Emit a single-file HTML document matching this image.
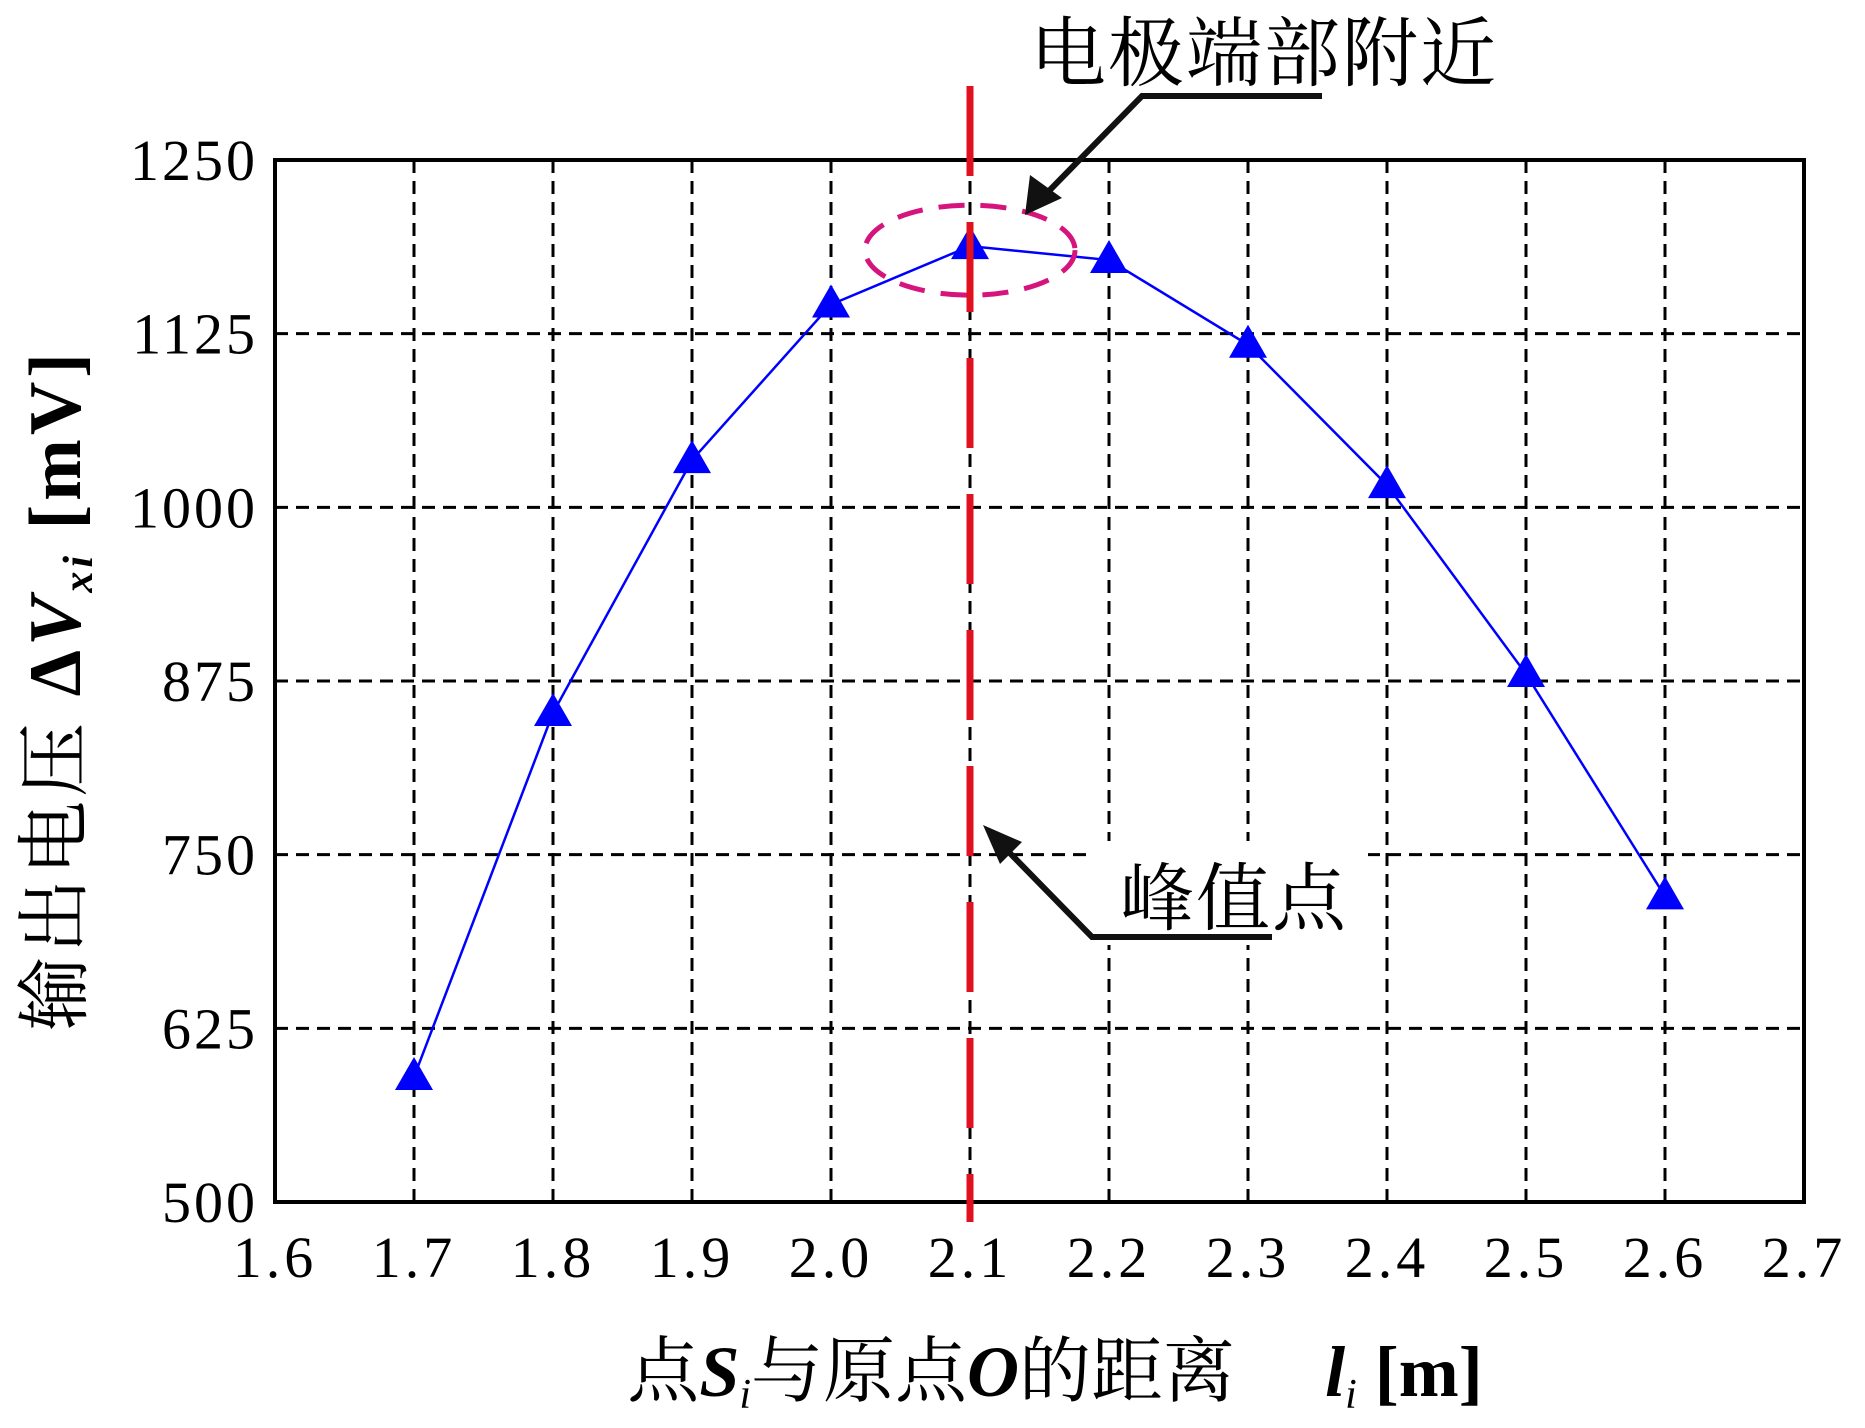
<!DOCTYPE html>
<html><head><meta charset="utf-8"><style>
html,body{margin:0;padding:0;background:#fff;}
svg{display:block;}
text{font-family:"Liberation Serif","Noto Serif CJK SC","Noto Sans CJK SC",serif;fill:#000;}
</style></head><body>
<svg id="chart" width="1865" height="1428" viewBox="0 0 1865 1428" xmlns="http://www.w3.org/2000/svg">
<g id="grid"></g>
<g id="series"></g>
<rect x="275" y="160" width="1529" height="1042" fill="none" stroke="#000" stroke-width="4"/>
<g id="ticks"></g>
<g id="annot"></g>
<text x="1055" y="1396" text-anchor="middle" font-size="72">点<tspan font-weight="bold" font-style="italic">S</tspan><tspan font-size="42" dy="12" font-style="italic">i</tspan><tspan dy="-12">与原点</tspan><tspan font-weight="bold" font-style="italic">O</tspan>的距离<tspan dx="90" font-weight="bold" font-style="italic">l</tspan><tspan font-size="42" dy="12" font-style="italic">i</tspan><tspan dy="-12" font-weight="bold"> [m]</tspan></text>
<text transform="translate(80,690) rotate(-90)" text-anchor="middle" font-size="74" letter-spacing="4">输出电压 <tspan font-weight="bold">Δ</tspan><tspan font-weight="bold" font-style="italic">V</tspan><tspan font-size="42" dy="12" font-weight="bold" font-style="italic">xi</tspan><tspan dy="-12" font-weight="bold"> [mV]</tspan></text>
</svg>
<script>
const xTicks=[1.6,1.7,1.8,1.9,2.0,2.1,2.2,2.3,2.4,2.5,2.6,2.7];
const xTickLabels=["1.6","1.7","1.8","1.9","2.0","2.1","2.2","2.3","2.4","2.5","2.6","2.7"];
const yTicks=[500,625,750,875,1000,1125,1250];
const xValues=[1.7,1.8,1.9,2.0,2.1,2.2,2.3,2.4,2.5,2.6];
const yValues=[590,852,1034,1146,1188,1178,1117,1016,880,720];
const peakX=[2.1];

const L=275,R=1804,T=160,B=1202;
const X0=1.6,X1=2.7,Y0=500,Y1=1250;
function sx(v){return L+(v-X0)/(X1-X0)*(R-L);}
function sy(v){return B-(v-Y0)/(Y1-Y0)*(B-T);}
const NS="http://www.w3.org/2000/svg";
function mk(tag,attrs,parent){const e=document.createElementNS(NS,tag);for(const k in attrs)e.setAttribute(k,attrs[k]);parent.appendChild(e);return e;}
const grid=document.getElementById('grid'),ticks=document.getElementById('ticks'),series=document.getElementById('series'),annot=document.getElementById('annot');

xTicks.forEach((v,i)=>{
  if(i>0&&i<xTicks.length-1){
    const g=mk('line',{x1:sx(v),x2:sx(v),y1:T,y2:B,stroke:'#000','stroke-width':3,'stroke-dasharray':'13 8'},grid);
    
    
  }
  const t=mk('text',{x:sx(v),y:1277,'text-anchor':'middle','font-size':58,'letter-spacing':4},ticks);
  t.textContent=xTickLabels[i];
  
  
});
yTicks.forEach((v,i)=>{
  if(i>0&&i<yTicks.length-1){
    const g=mk('line',{x1:L,x2:R,y1:sy(v),y2:sy(v),stroke:'#000','stroke-width':3,'stroke-dasharray':'13 8'},grid);
    
    
  }
  const t=mk('text',{x:258,y:sy(v)+20,'text-anchor':'end','font-size':58,'letter-spacing':3},ticks);
  t.textContent=String(v);
  
  
});
const pts=xValues.map((x,i)=>sx(x)+','+sy(yValues[i])).join(' ');
const pl=mk('polyline',{points:pts,fill:'none',stroke:'#0000ff','stroke-width':2.5},series);



const px=sx(peakX[0]);
const vl=mk('line',{x1:px,x2:px,y1:86,y2:1222,stroke:'#e0101e','stroke-width':7,'stroke-dasharray':'90 46'},annot);


const el=mk('ellipse',{cx:px,cy:sy(yValues[4])+4,rx:105,ry:45,fill:'none',stroke:'#d6147e','stroke-width':5,'stroke-dasharray':'26 16'},annot);



xValues.forEach((x,i)=>{
  const cx=sx(x),cy=sy(yValues[i]);
  const m=mk('polygon',{points:(cx)+','+(cy-20)+' '+(cx-19)+','+(cy+13)+' '+(cx+19)+','+(cy+13),fill:'#0000ff'},series);
  
  
});

const l1=mk('polyline',{points:'1322,96 1142,96 1045,195',fill:'none',stroke:'#111','stroke-width':6},annot);


const a1=mk('polygon',{points:'1025,215 1030,175 1062,198',fill:'#111'},annot);


const t1=mk('text',{x:1030,y:80,'font-size':76,'letter-spacing':2,'font-family':'"Noto Sans CJK SC",sans-serif'},annot);
t1.textContent='电极端部附近';



const bg=mk('rect',{x:1093,y:841,width:275,height:104,fill:'#fff'},annot);


const l2=mk('polyline',{points:'1272,937 1092,937 1000,843',fill:'none',stroke:'#111','stroke-width':6},annot);


const a2=mk('polygon',{points:'983,825 1022,842 1000,864',fill:'#111'},annot);


const t2=mk('text',{x:1120,y:924,'font-size':74,'letter-spacing':2,'font-family':'"Noto Serif CJK SC",serif'},annot);
t2.textContent='峰值点';


</script>
</body></html>
